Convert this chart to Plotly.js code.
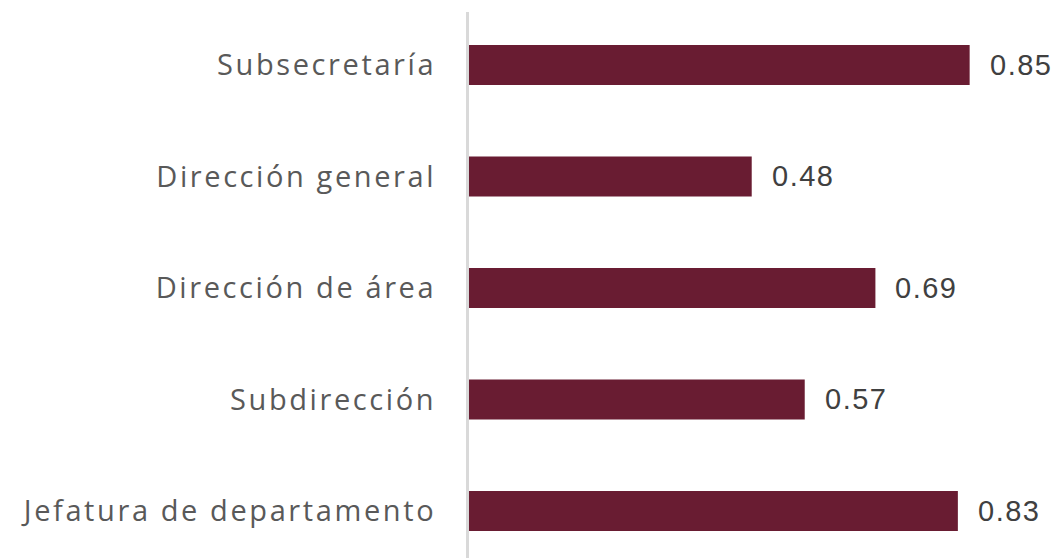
<!DOCTYPE html>
<html>
<head>
<meta charset="utf-8">
<script src="https://cdn.plot.ly/plotly-3.0.1.min.js"></script>
<style>
  html, body { margin: 0; padding: 0; background: #ffffff; }
  #chart { width: 1058px; height: 558px; }
  .ytick text { letter-spacing: 2.6px; }
  .annotation-text { letter-spacing: 1.5px; }
</style>
</head>
<body>
<div id="chart"></div>
<script>
// Categories from bottom to top
var categories = [
  "Jefatura de departamento",
  "Subdirección",
  "Dirección de área",
  "Dirección general",
  "Subsecretaría"
];
var values = [0.83, 0.57, 0.69, 0.48, 0.85];
var valueLabels = ["0.83", "0.57", "0.69", "0.48", "0.85"];

var barColor = "#691c32";

var trace = {
  type: "bar",
  orientation: "h",
  y: categories,
  x: values,
  marker: { color: barColor },
  width: 0.36,
  hoverinfo: "none"
};

var annotations = categories.map(function (c, i) {
  return {
    x: values[i],
    y: c,
    xref: "x",
    yref: "y",
    text: valueLabels[i],
    showarrow: false,
    xanchor: "left",
    yanchor: "middle",
    xshift: 18,
    font: { family: "Liberation Sans, Arial, sans-serif", size: 29, color: "#404040" }
  };
});

var layout = {
  width: 1058,
  height: 558,
  margin: { l: 469, r: 0, t: 12, b: 0 },
  paper_bgcolor: "#ffffff",
  plot_bgcolor: "#ffffff",
  showlegend: false,
  xaxis: {
    range: [0, 1.0],
    showgrid: false,
    zeroline: false,
    showline: false,
    showticklabels: false,
    ticks: ""
  },
  yaxis: {
    type: "category",
    categoryorder: "array",
    categoryarray: categories,
    range: [-0.4215, 4.475],
    showgrid: false,
    zeroline: false,
    showline: true,
    linecolor: "#d9d9d9",
    linewidth: 3,
    ticks: "",
    ticklabelstandoff: 24,
    tickfont: { family: "Open Sans, sans-serif", size: 29, color: "#595959" }
  },
  annotations: annotations
};

Plotly.newPlot("chart", [trace], layout, { displayModeBar: false, staticPlot: true });
</script>
</body>
</html>
